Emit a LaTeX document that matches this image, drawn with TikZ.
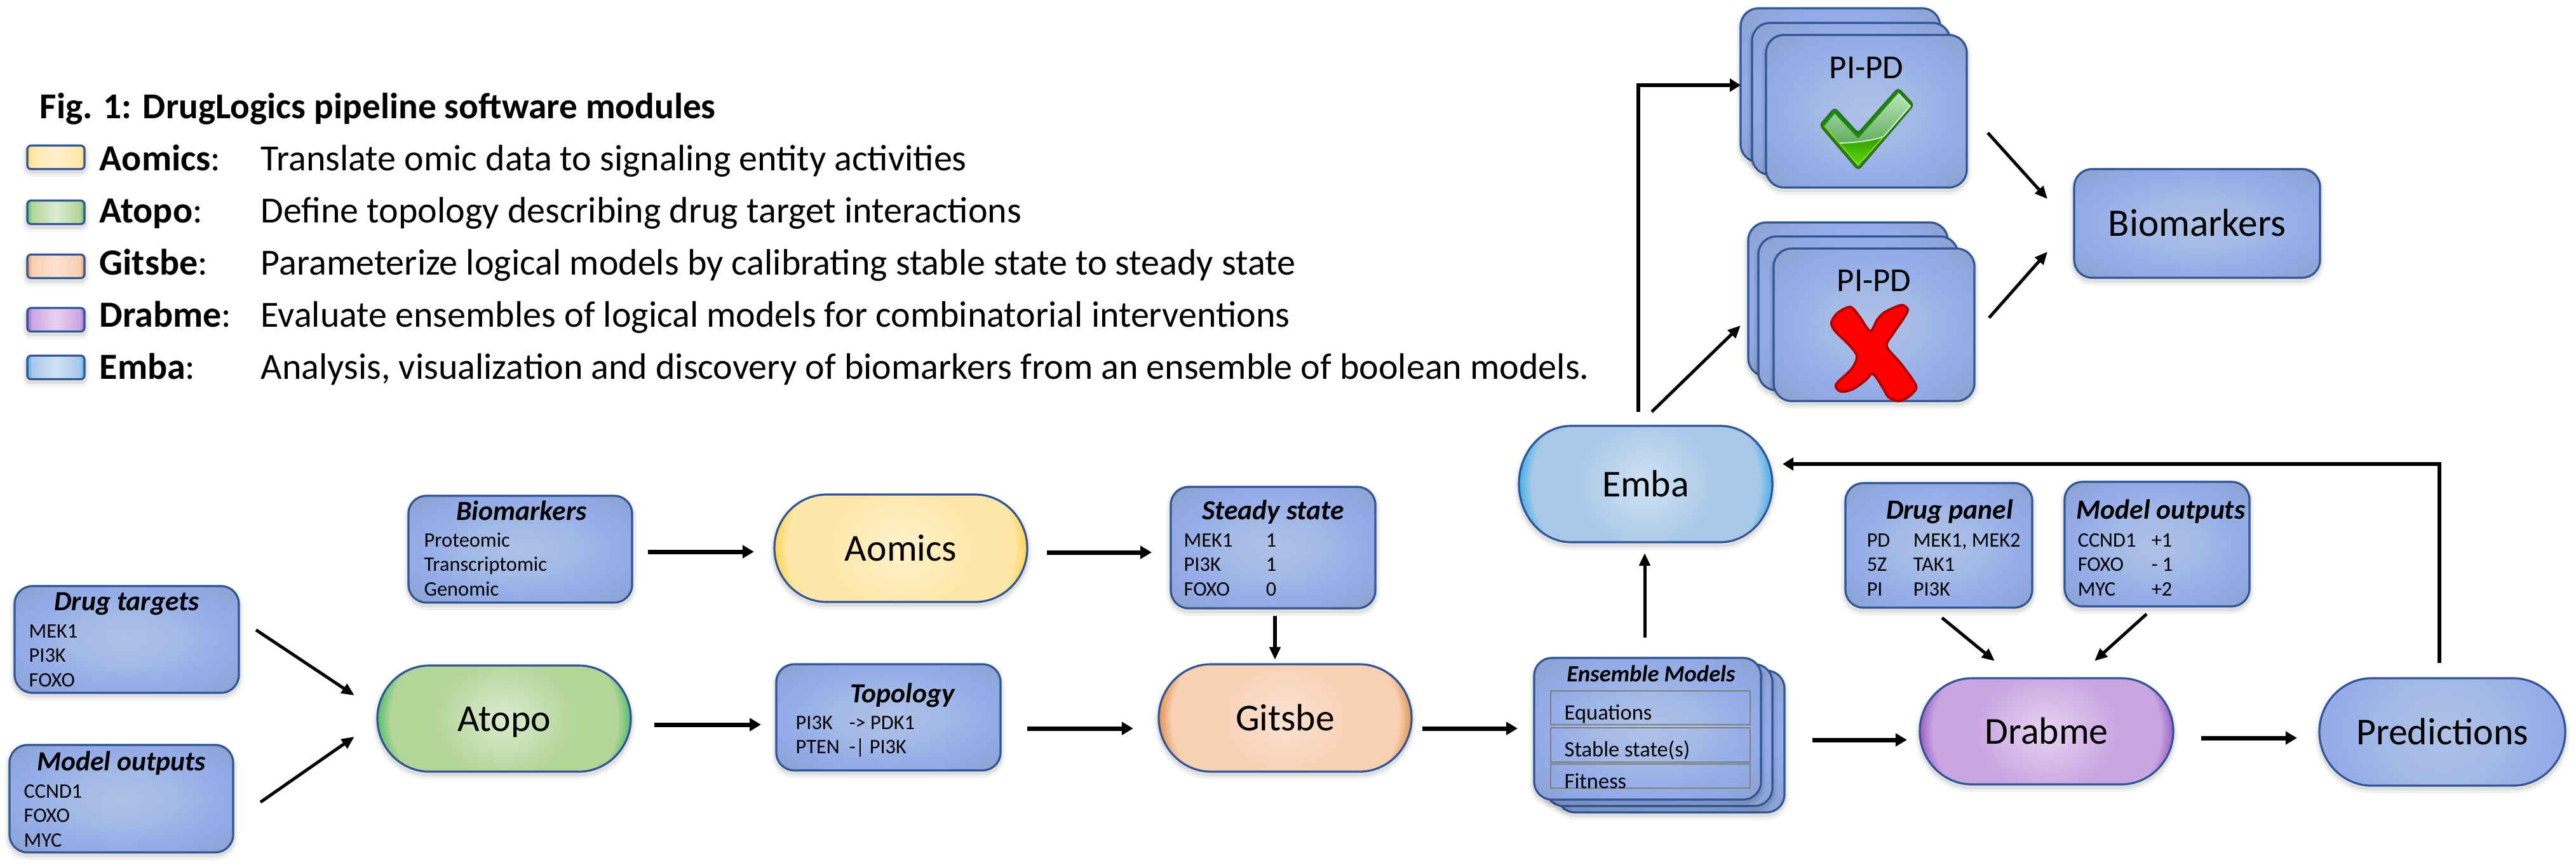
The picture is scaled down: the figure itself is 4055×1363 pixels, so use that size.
\documentclass[tikz,border=0pt]{standalone}
\usepackage{fontspec}
\setmainfont{Carlito}
\usetikzlibrary{arrows.meta}

\definecolor{boxline}{HTML}{2F5597}
\definecolor{innerline}{HTML}{7F7F7F}
\definecolor{bluea}{HTML}{AEC2E6}
\definecolor{blueb}{HTML}{A3B9E6}
\definecolor{bluec}{HTML}{96ADE8}
\definecolor{blued}{HTML}{91A9E2}
\definecolor{bluee}{HTML}{8A9FC8}
\definecolor{aomicsa}{HTML}{FEF2CD}
\definecolor{aomicsb}{HTML}{FEE7A9}
\definecolor{aomicsc}{HTML}{FFD34F}
\definecolor{atopoa}{HTML}{DCEBD0}
\definecolor{atopob}{HTML}{B3D598}
\definecolor{atopoc}{HTML}{4FBD6E}
\definecolor{gitsbea}{HTML}{FBE2D2}
\definecolor{gitsbeb}{HTML}{F8D0B3}
\definecolor{gitsbec}{HTML}{E09452}
\definecolor{drabmea}{HTML}{E6D3F1}
\definecolor{drabmeb}{HTML}{C9A6E1}
\definecolor{drabmec}{HTML}{9C5FC4}
\definecolor{embaa}{HTML}{D2E2F3}
\definecolor{embab}{HTML}{A8C8E8}
\definecolor{embac}{HTML}{3FB0E8}
\definecolor{checkedge}{HTML}{1B8A10}
\definecolor{checkline}{HTML}{2A6E20}
\definecolor{checktop}{HTML}{B8E4B8}
\definecolor{checkbot}{HTML}{3E9638}
\definecolor{checklowa}{HTML}{2F9A00}
\definecolor{checklowb}{HTML}{5FDC14}
\definecolor{crossline}{HTML}{B00000}

\pgfdeclareradialshading{blueshade}{\pgfpoint{0bp}{0bp}}{color(0bp)=(bluea); color(12.5bp)=(blueb); color(21bp)=(bluec); color(27.5bp)=(blued); color(36bp)=(bluee); color(50bp)=(bluee)}
\pgfdeclareradialshading{aomicsshade}{\pgfpoint{0bp}{0bp}}{color(0bp)=(aomicsa); color(14bp)=(aomicsb); color(22.5bp)=(aomicsb); color(25bp)=(aomicsc); color(50bp)=(aomicsc)}
\pgfdeclareradialshading{atoposhade}{\pgfpoint{0bp}{0bp}}{color(0bp)=(atopoa); color(14bp)=(atopob); color(22.5bp)=(atopob); color(25bp)=(atopoc); color(50bp)=(atopoc)}
\pgfdeclareradialshading{gitsbeshade}{\pgfpoint{0bp}{0bp}}{color(0bp)=(gitsbea); color(14bp)=(gitsbeb); color(22.5bp)=(gitsbeb); color(25bp)=(gitsbec); color(50bp)=(gitsbec)}
\pgfdeclareradialshading{drabmeshade}{\pgfpoint{0bp}{0bp}}{color(0bp)=(drabmea); color(14bp)=(drabmeb); color(22.5bp)=(drabmeb); color(25bp)=(drabmec); color(50bp)=(drabmec)}
\pgfdeclareradialshading{embashade}{\pgfpoint{0bp}{0bp}}{color(0bp)=(embaa); color(14bp)=(embab); color(22.5bp)=(embab); color(25bp)=(embac); color(50bp)=(embac)}
\pgfdeclarehorizontalshading{aomicsswatch}{100bp}{color(0bp)=(aomicsc); color(25bp)=(aomicsc); color(29bp)=(aomicsb); color(50bp)=(aomicsa); color(71bp)=(aomicsb); color(75bp)=(aomicsc); color(100bp)=(aomicsc)}
\pgfdeclarehorizontalshading{atoposwatch}{100bp}{color(0bp)=(atopoc); color(25bp)=(atopoc); color(29bp)=(atopob); color(50bp)=(atopoa); color(71bp)=(atopob); color(75bp)=(atopoc); color(100bp)=(atopoc)}
\pgfdeclarehorizontalshading{gitsbeswatch}{100bp}{color(0bp)=(gitsbec); color(25bp)=(gitsbec); color(29bp)=(gitsbeb); color(50bp)=(gitsbea); color(71bp)=(gitsbeb); color(75bp)=(gitsbec); color(100bp)=(gitsbec)}
\pgfdeclarehorizontalshading{drabmeswatch}{100bp}{color(0bp)=(drabmec); color(25bp)=(drabmec); color(29bp)=(drabmeb); color(50bp)=(drabmea); color(71bp)=(drabmeb); color(75bp)=(drabmec); color(100bp)=(drabmec)}
\pgfdeclarehorizontalshading{embaswatch}{100bp}{color(0bp)=(embac); color(25bp)=(embac); color(29bp)=(embab); color(50bp)=(embaa); color(71bp)=(embab); color(75bp)=(embac); color(100bp)=(embac)}

\tikzset{
  softshadow/.style={
    preaction={draw=black,draw opacity=.05,line width=.14cm,transform canvas={yshift=-.05cm}},
    preaction={draw=black,draw opacity=.08,line width=.07cm,transform canvas={yshift=-.04cm}}},
  databox/.style 2 args={shade,shading=blueshade,draw=boxline,line width=.9pt,rounded corners=.28cm,softshadow,
    inner sep=0,outer sep=0,minimum width=#1*0.01cm,minimum height=#2*0.01cm},
  module/.style={inner sep=0,outer sep=0,font=\fontsize{17}{20}\selectfont,text height=.39cm,text depth=0pt},
  modline/.style={draw=boxline,line width=.9pt},
  swatch/.style={shade,shading=#1,draw=boxline,line width=.9pt,rounded corners=.06cm,softshadow,
    inner sep=0,outer sep=0,minimum width=.9cm,minimum height=.37cm},
  legtext/.style={anchor=base west,inner sep=0,font=\fontsize{16.5}{20}\selectfont},
  boxhead/.style={anchor=base,inner sep=0,font=\fontsize{12.4}{15}\selectfont\bfseries\itshape},
  boxbody/.style={anchor=base west,inner sep=0,font=\fontsize{9.2}{11.05}\selectfont},
  eqnbox/.style 2 args={draw=innerline,line width=.7pt,inner sep=0,outer sep=0,minimum width=#1*0.01cm,minimum height=#2*0.01cm},
  flow/.style={-{Triangle[length=.18cm,width=.2cm]},line width=2pt},
  thinflow/.style={-{Triangle[length=.2cm,width=.17cm]},line width=1.4pt},
  longflow/.style={-{Triangle[length=.17cm,width=.2cm]},line width=1.7pt},
}

\newcommand{\modshape}[2]{(-#1+82,-#2) -- (#1-82,-#2) .. controls (#1-37,-#2) and (#1,-0.55*#2) .. (#1,0) .. controls (#1,0.55*#2) and (#1-37,#2) .. (#1-82,#2) -- (-#1+82,#2) .. controls (-#1+37,#2) and (-#1,0.55*#2) .. (-#1,0) .. controls (-#1,-0.55*#2) and (-#1+37,-#2) .. (-#1+82,-#2) -- cycle}
\newcommand{\modbox}[7]{
\begin{scope}[shift={(#2,#3)}]
\path[softshadow] \modshape{#4}{#5};
\begin{scope}
\clip \modshape{#4}{#5};
\shade[shading=#6] (-#4,-2*#5) rectangle (#4,2*#5);
\end{scope}
\draw[modline] \modshape{#4}{#5};
\end{scope}
\node[module,minimum width=#4*0.02cm,minimum height=#5*0.02cm] (#1) at (#2,#3) {#7};
}

\begin{document}
\begin{tikzpicture}[x=0.01cm,y=-0.01cm]
\useasboundingbox (0,0) rectangle (4055,1363);
% legend
\node[legtext,font=\fontsize{16.3}{20}\selectfont\bfseries] (legtitle) at (62,186) {Fig. 1: DrugLogics pipeline software modules};
\node[swatch=aomicsswatch] (legaomics) at (88,247.5) {};
\node[swatch=atoposwatch] (legatopo) at (88,334) {};
\node[swatch=gitsbeswatch] (leggitsbe) at (88,419) {};
\node[swatch=drabmeswatch] (legdrabme) at (88,503) {};
\node[swatch=embaswatch] (legemba) at (88,578) {};
\node[legtext] (nameaomics) at (156,268) {\textbf{Aomics}:};
\node[legtext] (nameatopo) at (156,350) {\textbf{Atopo}:};
\node[legtext] (namegitsbe) at (156,432) {\textbf{Gitsbe}:};
\node[legtext] (namedrabme) at (156,514) {\textbf{Drabme}:};
\node[legtext] (nameemba) at (156,596) {\textbf{Emba}:};
\node[legtext] (textaomics) at (410,268) {Translate omic data to signaling entity activities};
\node[legtext] (textatopo) at (410,350) {Define topology describing drug target interactions};
\node[legtext] (textgitsbe) at (410,432) {Parameterize logical models by calibrating stable state to steady state};
\node[legtext] (textdrabme) at (410,514) {Evaluate ensembles of logical models for combinatorial interventions};
\node[legtext] (textemba) at (410,596) {Analysis, visualization and discovery of biomarkers from an ensemble of boolean models.};
% input boxes
\node[databox={353}{168}] (dtargets) at (199.5,1006) {};
\node[boxhead] (dtargetshead) at ([shift={(0,38)}]dtargets.north) {Drug targets};
\node[boxbody] (dtargetsbody) at ([shift={(22,81)}]dtargets.north west) {\begin{tabular}[t]{@{}l@{}}MEK1\\PI3K\\FOXO\end{tabular}};
\node[databox={352}{169}] (moutleft) at (191,1256.5) {};
\node[boxhead] (moutlefthead) at ([shift={(0,40)}]moutleft.north) {Model outputs};
\node[boxbody] (moutleftbody) at ([shift={(22,83)}]moutleft.north west) {\begin{tabular}[t]{@{}l@{}}CCND1\\FOXO\\MYC\end{tabular}};
\node[databox={352}{168}] (bioin) at (819,864) {};
\node[boxhead] (bioinhead) at ([shift={(2,38)}]bioin.north) {Biomarkers};
\node[boxbody] (bioinbody) at ([shift={(24,80)}]bioin.north west) {\begin{tabular}[t]{@{}l@{}}Proteomic\\Transcriptomic\\Genomic\end{tabular}};
\node[databox={322}{191}] (steady) at (2004,861.5) {};
\node[boxhead] (steadyhead) at ([shift={(0,51)}]steady.north) {Steady state};
\node[boxbody] (steadybody) at ([shift={(20,94)}]steady.north west) {\begin{tabular}[t]{@{}p{1.29cm}@{}l@{}}MEK1&1\\PI3K&1\\FOXO&0\end{tabular}};
\node[databox={353}{167}] (topo) at (1398.5,1128.5) {};
\node[boxhead] (topohead) at ([shift={(22,60)}]topo.north) {Topology};
\node[boxbody] (topobody) at ([shift={(30,102)}]topo.north west) {\begin{tabular}[t]{@{}p{.84cm}@{}l@{}}PI3K&-> PDK1\\PTEN&-| PI3K\end{tabular}};
\node[databox={294}{196}] (dpanel) at (3052,858) {};
\node[boxhead] (dpanelhead) at ([shift={(17,56)}]dpanel.north) {Drug panel};
\node[boxbody] (dpanelbody) at ([shift={(33,100)}]dpanel.north west) {\begin{tabular}[t]{@{}p{.73cm}@{}l@{}}PD&MEK1, MEK2\\5Z&TAK1\\PI&PI3K\end{tabular}};
\node[databox={291}{196}] (moutright) at (3395.5,856) {};
\node[boxhead] (moutrighthead) at ([shift={(6,58)}]moutright.north) {Model outputs};
\node[boxbody] (moutrightbody) at ([shift={(20,102)}]moutright.north west) {\begin{tabular}[t]{@{}p{1.16cm}@{}l@{}}CCND1&+1\\FOXO&- 1\\MYC&+2\end{tabular}};
% modules
\modbox{atopo}{793.5}{1130.5}{199.5}{83.5}{atoposhade}{Atopo}
\modbox{aomics}{1418}{862.5}{199}{84.5}{aomicsshade}{Aomics}
\modbox{gitsbe}{2023}{1129.5}{199}{84.5}{gitsbeshade}{Gitsbe}
\modbox{emba}{2590.5}{761.5}{199.5}{91.5}{embashade}{Emba}
\modbox{drabme}{3221.5}{1150.5}{199.5}{83.5}{drabmeshade}{Drabme}
\modbox{pred}{3844.5}{1151.5}{193.5}{84.5}{blueshade}{Predictions}
% ensemble
\node[databox={358}{223}] (ensback) at (2630,1166.5) {};
\node[databox={357}{223}] (ensmid) at (2611.5,1156.5) {};
\node[databox={357}{223}] (ensfront) at (2593.5,1146.5) {};
\node[boxhead,font=\fontsize{10.4}{13}\selectfont\bfseries\itshape] (enshead) at ([shift={(5.5,37)}]ensfront.north) {Ensemble Models};
\node[eqnbox={314}{53}] (eqnone) at (2598,1113.5) {};
\node[eqnbox={314}{54}] (eqntwo) at (2598,1172) {};
\node[eqnbox={314}{38}] (eqnthree) at (2598,1221) {};
\node[boxbody,font=\fontsize{9.8}{12}\selectfont] (eqnonetext) at ([shift={(21,45)}]eqnone.north west) {Equations};
\node[boxbody,font=\fontsize{9.8}{12}\selectfont] (eqntwotext) at ([shift={(21,45)}]eqntwo.north west) {Stable state(s)};
\node[boxbody,font=\fontsize{9.8}{12}\selectfont] (eqnthreetext) at ([shift={(21,38)}]eqnthree.north west) {Fitness};
% PI-PD stacks
\node[databox={314}{242}] (yesback) at (2897,134) {};
\node[databox={312}{239}] (yesmid) at (2914,155.5) {};
\node[databox={316}{240}] (yesfront) at (2938,175) {};
\node[anchor=base,inner sep=0,font=\fontsize{15}{18}\selectfont] (yestext) at ([shift={(0,68)}]yesfront.north) {PI-PD};
\node[databox={314}{242}] (noback) at (2909,471) {};
\node[databox={314}{242}] (nomid) at (2925,493) {};
\node[databox={316}{240}] (nofront) at (2950,511) {};
\node[anchor=base,inner sep=0,font=\fontsize{15}{18}\selectfont] (notext) at ([shift={(0,67)}]nofront.north) {PI-PD};
\node[databox={387}{171}] (biom) at (3458.5,351.5) {};
\node[inner sep=0,font=\fontsize{17.4}{21}\selectfont,text height=.39cm,text depth=0pt] (biomtext) at (biom.center) {Biomarkers};
% check mark
\draw[fill=checkedge,draw=checkline,line width=.8pt,line join=round,rounded corners=.05cm] (2888,170) -- (2865,197) -- (2925,267) -- (3012,165) -- (2988,139) -- (2925,210) -- cycle;
\shade[top color=checktop,bottom color=checkbot,line join=round] (2888,179) -- (2872,198) -- (2925,260) -- (3007,167) -- (2988,147) -- (2925,218) -- cycle;
\shade[top color=checklowa,bottom color=checklowb] (2895,225) .. controls (2915,225) and (2945,222) .. (2965,215) -- (2925,260) -- cycle;
\draw[white!80!green,line width=.5pt] (2895,225) .. controls (2915,225) and (2945,222) .. (2965,215) -- (3007,167) -- (2988,147);
\draw[yellow!60!green,line width=.5pt] (2872,198) -- (2925,260) -- (2965,215);
% cross
\draw[draw=crossline,fill=red,line width=1.1pt] plot[smooth cycle,tension=.5] coordinates {(2913,483) (2893,492) (2883,507) (2888,520) (2910,542) (2923,560) (2915,580) (2890,605) (2898,616) (2917,612) (2938,597) (2946,588) (2953,593) (2965,612) (2973,625) (2990,631) (3007,622) (3016,607) (2993,573) (2970,545) (2980,525) (2997,500) (3003,487) (2993,480) (2967,491) (2955,503) (2944,521) (2927,498)};
% connectors
\draw[flow] ([shift={(25,4)}]bioin.east) -- ([shift={(-32,5.5)}]aomics.west);
\draw[flow] ([shift={(31,6.5)}]aomics.east) -- ([shift={(-30,7.5)}]steady.west);
\draw[thinflow,line width=1.7pt] ([shift={(3,12)}]steady.south) -- ([shift={(-16,-7)}]gitsbe.north);
\draw[thinflow] ([shift={(27,-15)}]dtargets.east) -- ([shift={(-36,-36.5)}]atopo.west);
\draw[thinflow] ([shift={(43,5.5)}]moutleft.east) -- ([shift={(-36,28.5)}]atopo.west);
\draw[flow] ([shift={(37,9.5)}]atopo.east) -- ([shift={(-24,11.5)}]topo.west);
\draw[flow] ([shift={(42,17.5)}]topo.east) -- ([shift={(-40,16.5)}]gitsbe.west);
\draw[flow] ([shift={(17,16.5)}]gitsbe.east) -- ([shift={(-26,-.5)}]ensfront.west);
\draw[flow] ([shift={(44,-2.5)}]ensback.east) -- ([shift={(-20,13.5)}]drabme.west);
\draw[flow] ([shift={(44,10.5)}]drabme.east) -- ([shift={(-35,9.5)}]pred.west);
\draw[thinflow] ([shift={(-4.5,-32)}]ensfront.north) -- ([shift={(-1.5,17)}]emba.south);
\draw[thinflow] ([shift={(5,16)}]dpanel.south) -- ([shift={(-81.5,-27)}]drabme.north);
\draw[thinflow] ([shift={(-16.5,12)}]moutright.south) -- ([shift={(75.5,-27)}]drabme.north);
\draw[longflow] ([shift={(-5,-24)}]pred.north) |- ([shift={(16,-31.5)}]emba.east);
\draw[longflow] ([shift={(-11.5,-22)}]emba.north) |- (yesback.west);
\draw[thinflow] ([shift={(9.5,-22)}]emba.north) -- ([shift={(-12,41)}]noback.west);
\draw[thinflow] ([shift={(33,34)}]yesfront.east) -- ([shift={(-42,-38.5)}]biom.west);
\draw[thinflow] ([shift={(23,-11)}]nofront.east) -- ([shift={(-42,44.5)}]biom.west);
\end{tikzpicture}
\end{document}
